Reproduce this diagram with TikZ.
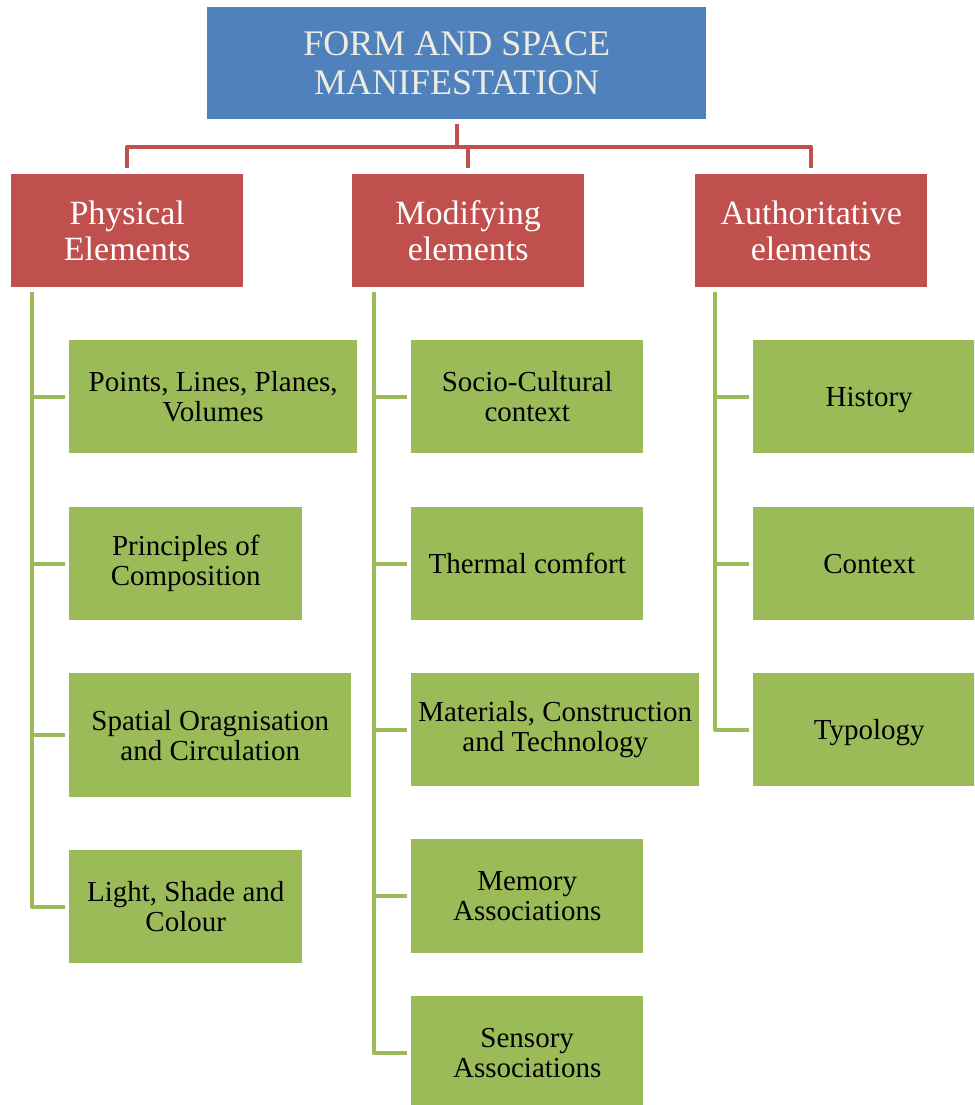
\documentclass[tikz,border=0pt]{standalone}
\usepackage{fontspec}
\setmainfont{Liberation Serif}
\definecolor{hdrblue}{HTML}{4F81BD}
\definecolor{catred}{HTML}{C0504D}
\definecolor{leafgreen}{HTML}{9BBB59}
\definecolor{titletext}{HTML}{EEECE1}
\begin{document}
\begin{tikzpicture}[x=1pt,y=-1pt,
  box/.style={rectangle, inner sep=0pt, anchor=north west, align=center},
  titlebox/.style={box, fill=hdrblue, text=titletext,
    font=\fontsize{36}{39}\selectfont, minimum width=499pt, minimum height=112pt},
  catbox/.style={box, fill=catred, text=white,
    font=\fontsize{34}{36}\selectfont, minimum width=232pt, minimum height=113pt},
  leafbox/.style={box, fill=leafgreen, text=black,
    font=\fontsize{29}{30}\selectfont, minimum width=232pt, minimum height=113pt},
  redline/.style={draw=catred, line width=4pt, line join=round},
  greenline/.style={draw=leafgreen, line width=4pt, line join=round}]

\path[use as bounding box, clip] (0,0) rectangle (974,1105);

% top level
\node[titlebox] (title) at (207,7) {FORM AND SPACE\\MANIFESTATION};

% categories
\node[catbox] (phys) at (11,174)  {Physical\\Elements};
\node[catbox] (modi) at (352,174) {Modifying\\elements};
\node[catbox] (auth) at (695,174) {Authoritative\\elements};

% physical elements
\node[leafbox, minimum width=288pt] (p1) at (69,340) {Points, Lines, Planes,\\Volumes};
\node[leafbox, minimum width=233pt] (p2) at (69,507) {Principles of\\Composition};
\node[leafbox, minimum width=282pt, minimum height=124pt] (p3) at (69,673) {Spatial Oragnisation\\and Circulation};
\node[leafbox, minimum width=233pt] (p4) at (69,850) {Light, Shade and\\Colour};

% modifying elements
\node[leafbox] (m1) at (411,340) {Socio-Cultural\\context};
\node[leafbox] (m2) at (411,507) {Thermal comfort};
\node[leafbox, minimum width=288pt] (m3) at (411,673) {Materials, Construction\\and Technology};
\node[leafbox, minimum height=114pt] (m4) at (411,839) {Memory\\Associations};
\node[leafbox] (m5) at (411,996) {Sensory\\Associations};

% authoritative elements
\node[leafbox, text depth=0pt] (a1) at (753,340) {History};
\node[leafbox] (a2) at (753,507) {Context};
\node[leafbox, text depth=0pt] (a3) at (753,673) {Typology};

% red bus from the title to the categories
\coordinate (bus) at (0,147);
\draw[redline] ([yshift=-5pt]title.south) -- (title.south |- bus);
\draw[redline] ([yshift=6pt]phys.north) -- (phys.north |- bus)
  -- (auth.north |- bus) -- ([yshift=6pt]auth.north);
\draw[redline] (modi.north |- bus) -- ([yshift=6pt]modi.north);

% green trunks and branches
\coordinate (ptrunk) at ([xshift=21pt,yshift=-5pt]phys.south west);
\coordinate (mtrunk) at ([xshift=22pt,yshift=-5pt]modi.south west);
\coordinate (atrunk) at ([xshift=20pt,yshift=-5pt]auth.south west);

\draw[greenline] (ptrunk) |- ([xshift=-4pt]p4.west);
\foreach \n in {p1,p2,p3}
  \draw[greenline] (ptrunk |- \n.west) -- ([xshift=-4pt]\n.west);

\draw[greenline] (mtrunk) |- ([xshift=-4pt]m5.west);
\foreach \n in {m1,m2,m3,m4}
  \draw[greenline] (mtrunk |- \n.west) -- ([xshift=-4pt]\n.west);

\draw[greenline] (atrunk) |- ([xshift=-4pt]a3.west);
\foreach \n in {a1,a2}
  \draw[greenline] (atrunk |- \n.west) -- ([xshift=-4pt]\n.west);
\end{tikzpicture}
\end{document}
